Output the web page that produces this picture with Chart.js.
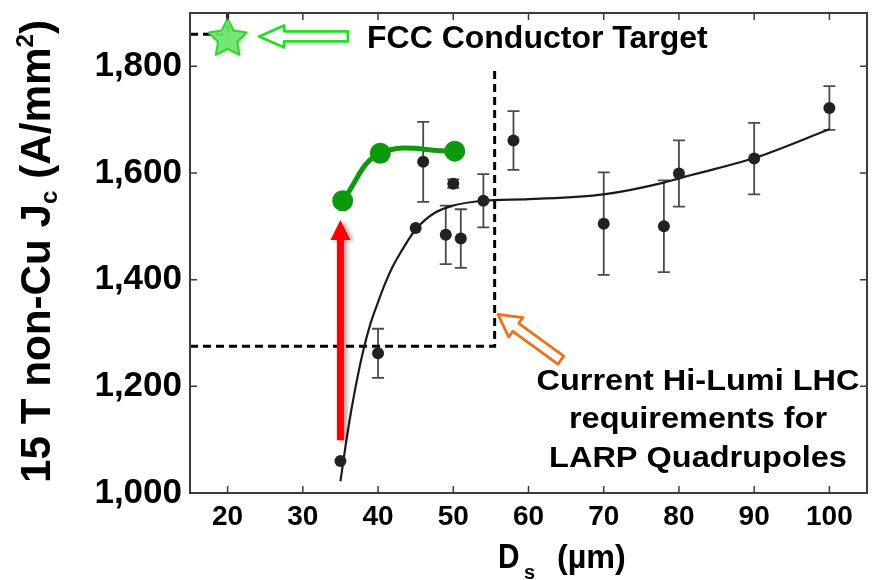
<!DOCTYPE html>
<html><head><meta charset="utf-8">
<script src="https://cdn.jsdelivr.net/npm/chart.js@4.4.0/dist/chart.umd.min.js"></script>
<style>html,body{margin:0;padding:0;overflow:hidden;background:#fff;width:874px;height:580px}
#wrap{width:880px;height:580px}</style></head>
<body><div id="wrap"><canvas id="c" width="880" height="580"></canvas></div>
<script>
// ---- data ----
const xTicks = [20, 30, 40, 50, 60, 70, 80, 90, 100];
const yTicks = [1000, 1200, 1400, 1600, 1800];
const sampleD  = [35, 40, 45, 46, 49, 50, 51, 54, 58, 70, 78, 80, 90, 100];
const sampleJc = [1060, 1262, 1497, 1621, 1484, 1580, 1477, 1548, 1661, 1505, 1500, 1599, 1627, 1722];
const sampleErr = [0, 46, 0, 75, 55, 8, 55, 50, 55, 96, 86, 62, 67, 41];
const fitD  = [35, 36, 37, 38, 39, 40, 41, 42, 43, 45, 47.5, 50, 54, 60, 70, 78, 80, 90, 100];
const fitJc = [1022, 1118, 1198, 1265, 1318, 1358, 1395, 1426, 1451, 1494, 1525, 1539, 1548, 1551, 1560, 1582, 1590, 1628, 1682];
const improvedD  = [35.3, 40.3, 50.2];
const improvedJc = [1548, 1637, 1641];
const hiLumiD  = [15, 55.5, 55.5];
const hiLumiJc = [1275, 1275, 1800];
const fccD  = [15, 20, 20];
const fccJc = [1860, 1860, 1900];
const targetD  = [20];
const targetJc = [1852];
const jumpD  = [35];
const jumpJc = [1099, 1512];

const FONT = '"Liberation Sans", Arial, Helvetica, sans-serif';
const pts = (xs, ys) => xs.map((v, i) => ({x: v, y: ys[i]}));

function text(ctx, s, x, y, size, align, sx) {
  ctx.save();
  ctx.translate(x, y);
  ctx.scale(sx || 1, 1);
  ctx.font = 'bold ' + size + 'px ' + FONT;
  ctx.textAlign = align || 'left';
  ctx.textBaseline = 'alphabetic';
  ctx.fillStyle = '#000';
  ctx.fillText(s, 0, 0);
  ctx.restore();
}

function hollowArrow(ctx, tx, ty, sx, sy, headLen, headHalf, shaftHalf, color) {
  const L = Math.hypot(sx - tx, sy - ty);
  const ux = (sx - tx) / L, uy = (sy - ty) / L;
  const nx = -uy, ny = ux;
  const hx = tx + ux * headLen, hy = ty + uy * headLen;
  ctx.save();
  ctx.beginPath();
  ctx.moveTo(tx, ty);
  ctx.lineTo(hx + nx * headHalf, hy + ny * headHalf);
  ctx.lineTo(hx + nx * shaftHalf, hy + ny * shaftHalf);
  ctx.lineTo(sx + nx * shaftHalf, sy + ny * shaftHalf);
  ctx.lineTo(sx - nx * shaftHalf, sy - ny * shaftHalf);
  ctx.lineTo(hx - nx * shaftHalf, hy - ny * shaftHalf);
  ctx.lineTo(hx - nx * headHalf, hy - ny * headHalf);
  ctx.closePath();
  ctx.fillStyle = '#fff';
  ctx.fill();
  ctx.lineJoin = 'round';
  ctx.lineWidth = 2.8;
  ctx.strokeStyle = color;
  ctx.stroke();
  ctx.restore();
}

const deco = {
  id: 'deco',
  beforeDatasetsDraw(chart) {
    const {ctx, scales: {x, y}} = chart;
    ctx.save();
    ctx.strokeStyle = '#4a4a4a';
    ctx.lineWidth = 1.8;
    sampleD.forEach((d, i) => {
      const e = sampleErr[i];
      if (!e) return;
      const px = x.getPixelForValue(d);
      const t = y.getPixelForValue(sampleJc[i] + e);
      const b = y.getPixelForValue(sampleJc[i] - e);
      ctx.beginPath();
      ctx.moveTo(px, t); ctx.lineTo(px, b);
      ctx.moveTo(px - 6, t); ctx.lineTo(px + 6, t);
      ctx.moveTo(px - 6, b); ctx.lineTo(px + 6, b);
      ctx.stroke();
    });
    ctx.restore();
  },
  afterDatasetsDraw(chart) {
    const {ctx, scales: {x, y}} = chart;
    // red arrow
    const ax = x.getPixelForValue(jumpD[0]);
    const ab = y.getPixelForValue(jumpJc[0]);
    const at = y.getPixelForValue(jumpJc[1]);
    ctx.save();
    ctx.shadowColor = 'rgba(0,0,0,0.35)';
    ctx.shadowBlur = 4; ctx.shadowOffsetX = 3; ctx.shadowOffsetY = 1;
    ctx.fillStyle = '#ff0000';
    ctx.beginPath();
    ctx.moveTo(ax, at);
    ctx.lineTo(ax + 10, at + 20);
    ctx.lineTo(ax + 3.5, at + 20);
    ctx.lineTo(ax + 3.5, ab);
    ctx.lineTo(ax - 3.5, ab);
    ctx.lineTo(ax - 3.5, at + 20);
    ctx.lineTo(ax - 10, at + 20);
    ctx.closePath();
    ctx.fill();
    ctx.restore();

    // star
    const cx = x.getPixelForValue(targetD[0]), cy = y.getPixelForValue(targetJc[0]);
    ctx.save();
    ctx.shadowColor = 'rgba(0,0,0,0.3)';
    ctx.shadowBlur = 4; ctx.shadowOffsetX = 2; ctx.shadowOffsetY = 2;
    ctx.beginPath();
    for (let k = 0; k < 10; k++) {
      const r = k % 2 === 0 ? 20 : 10;
      const a = -Math.PI / 2 + k * Math.PI / 5;
      const px = cx + r * Math.cos(a), py = cy + r * Math.sin(a);
      k === 0 ? ctx.moveTo(px, py) : ctx.lineTo(px, py);
    }
    ctx.closePath();
    ctx.fillStyle = 'rgba(110,236,110,0.92)';
    ctx.fill();
    ctx.shadowColor = 'transparent';
    ctx.lineWidth = 2; ctx.lineJoin = 'round';
    ctx.strokeStyle = '#2fd62f';
    ctx.stroke();
    ctx.restore();

    // green hollow arrow
    hollowArrow(ctx, x.getPixelForValue(24.2), y.getPixelForValue(1856),
      x.getPixelForValue(36.0), y.getPixelForValue(1856), 25, 11, 5, '#22e022');
    // orange hollow arrow
    hollowArrow(ctx, x.getPixelForValue(55.95), y.getPixelForValue(1335),
      x.getPixelForValue(64.3), y.getPixelForValue(1249), 22, 12, 5, '#f07018');

    // annotation texts
    text(ctx, 'FCC Conductor Target', 367, 48, 32, 'left', 1.0);
    text(ctx, 'Current Hi-Lumi LHC', 698, 390, 29, 'center', 1.12);
    text(ctx, 'requirements for', 698, 428, 29, 'center', 1.12);
    text(ctx, 'LARP Quadrupoles', 698, 467, 29, 'center', 1.12);
  },
  afterDraw(chart) {
    const {ctx, chartArea: ca, scales: {x, y}} = chart;
    ctx.save();
    ctx.strokeStyle = '#3c3c3c';
    ctx.lineWidth = 2;
    ctx.strokeRect(ca.left, ca.top, ca.right - ca.left, ca.bottom - ca.top);
    ctx.lineWidth = 1.5;
    ctx.beginPath();
    xTicks.forEach(v => {
      const px = x.getPixelForValue(v);
      ctx.moveTo(px, ca.bottom); ctx.lineTo(px, ca.bottom - 7);
      ctx.moveTo(px, ca.top); ctx.lineTo(px, ca.top + 7);
    });
    yTicks.forEach(v => {
      const py = y.getPixelForValue(v);
      ctx.moveTo(ca.left, py); ctx.lineTo(ca.left + 7, py);
      ctx.moveTo(ca.right, py); ctx.lineTo(ca.right - 7, py);
    });
    ctx.stroke();
    ctx.restore();

    // x title
    text(ctx, 'D', 498, 568, 35, 'left', 0.85);
    text(ctx, 's', 524, 579, 20, 'left', 1);
    text(ctx, '(\u00b5m)', 557, 568, 34, 'left', 0.95);

    // y title (rotated)
    ctx.save();
    ctx.translate(50, 483);
    ctx.rotate(-Math.PI / 2);
    const parts = [['15 T non-Cu J', 42, 0], ['c', 24, 7], [' (A/mm', 42, 0], ['2', 24, -17], [')', 42, 0]];
    let w = 0;
    parts.forEach(p => { ctx.font = 'bold ' + p[1] + 'px ' + FONT; w += ctx.measureText(p[0]).width; });
    ctx.scale(463 / w, 1);
    let cur = 0;
    ctx.fillStyle = '#000';
    ctx.textBaseline = 'alphabetic';
    ctx.textAlign = 'left';
    parts.forEach(p => {
      ctx.font = 'bold ' + p[1] + 'px ' + FONT;
      ctx.fillText(p[0], cur, p[2]);
      cur += ctx.measureText(p[0]).width;
    });
    ctx.restore();
  }
};

const noPad = s => { s.paddingTop = 0; s.paddingBottom = 0; s.paddingLeft = 0; s.paddingRight = 0; };

new Chart(document.getElementById('c'), {
  type: 'scatter',
  data: {
    datasets: [
      {label: 'Improved', data: pts(improvedD, improvedJc), showLine: true, tension: 0.4,
       borderColor: '#0c9a0c', backgroundColor: '#0c9a0c', borderWidth: 5, pointRadius: 8, order: 0},
      {label: 'Samples', data: pts(sampleD, sampleJc), showLine: false,
       backgroundColor: '#222', borderColor: '#222', borderWidth: 0, pointRadius: 6, order: 1},
      {label: 'Fit', data: pts(fitD, fitJc), showLine: true, cubicInterpolationMode: 'monotone',
       borderColor: '#1a1a1a', borderWidth: 2.2, pointRadius: 0, order: 2},
      {label: 'HL-LHC req', data: pts(hiLumiD, hiLumiJc), showLine: true, tension: 0,
       borderColor: '#000', borderWidth: 3, borderDash: [8, 5], pointRadius: 0, order: 3},
      {label: 'FCC req', data: pts(fccD, fccJc), showLine: true, tension: 0,
       borderColor: '#000', borderWidth: 3, borderDash: [8, 5], pointRadius: 0, order: 3}
    ]
  },
  options: {
    responsive: false,
    animation: false,
    events: [],
    layout: {padding: {top: 10, right: 2, left: 0, bottom: 0}},
    plugins: {legend: {display: false}, tooltip: {enabled: false}},
    scales: {
      x: {
        type: 'linear', min: 15, max: 105,
        afterBuildTicks: s => { s.ticks = xTicks.map(v => ({value: v})); },
        afterFit: s => { s.height = 87; noPad(s); },
        grid: {display: false, drawTicks: false},
        border: {display: false},
        ticks: {color: '#000', padding: 7, maxRotation: 0, autoSkip: false,
                font: {family: FONT, size: 28, weight: 'bold'}}
      },
      y: {
        type: 'linear', min: 1000, max: 1900,
        afterBuildTicks: s => { s.ticks = yTicks.map(v => ({value: v})); },
        afterFit: s => { s.width = 190; noPad(s); },
        grid: {display: false, drawTicks: false},
        border: {display: false},
        ticks: {color: '#000', padding: 8, autoSkip: false,
                font: {family: FONT, size: 35, weight: 'bold'},
                callback: v => v.toLocaleString('en-US')}
      }
    }
  },
  plugins: [deco]
});
</script></body></html>
